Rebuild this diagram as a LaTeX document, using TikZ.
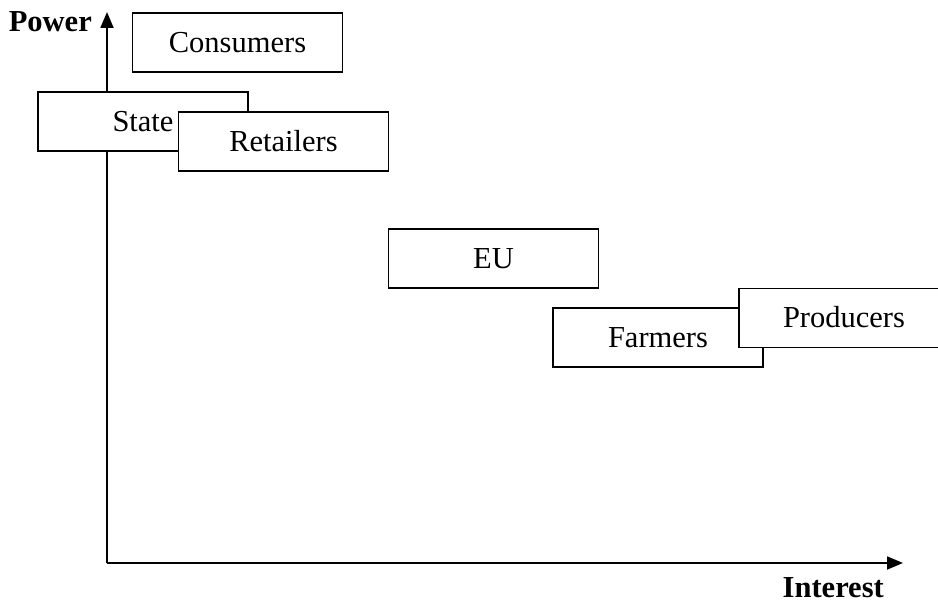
\documentclass[tikz,border=0pt]{standalone}
\usepackage{fontspec}
\setmainfont{Liberation Serif}
\usetikzlibrary{arrows.meta}
\begin{document}
\begin{tikzpicture}[x=1pt,y=-1pt,
  axis/.style={line width=1.8pt,-{Triangle[length=16pt,width=13pt]}},
  box/.style={draw,line width=1.7pt,fill=white,minimum width=210pt,minimum height=59pt,
    inner sep=0pt,text height=20pt,text depth=0pt,font=\fontsize{30.5}{36}\selectfont},
  axlabel/.style={inner sep=0pt,font=\fontsize{30.5}{36}\selectfont\bfseries}]
\useasboundingbox (0,0) rectangle (938,604);
\clip (0,0) rectangle (938,604);
\coordinate (O) at (107,563);
\coordinate (ytip) at (107,12);
\coordinate (xtip) at (903,563);
\draw[axis] (O) -- (ytip);
\draw[axis] (O) -- (xtip);
\node[axlabel,anchor=base east] (power) at (92,32) {Power};
\node[axlabel,anchor=base east] (interest) at (884,597) {Interest};
\node[box] (cons) at (237.5,42.5) {Consumers};
\node[box] (state) at (143,121.5) {State};
\node[box] (ret) at (283.5,141.5) {Retailers};
\node[box] (eu) at (493.5,258.5) {EU};
\node[box] (farm) at (658,337.5) {Farmers};
\node[box] (prod) at (844,318) {Producers};
\end{tikzpicture}
\end{document}
